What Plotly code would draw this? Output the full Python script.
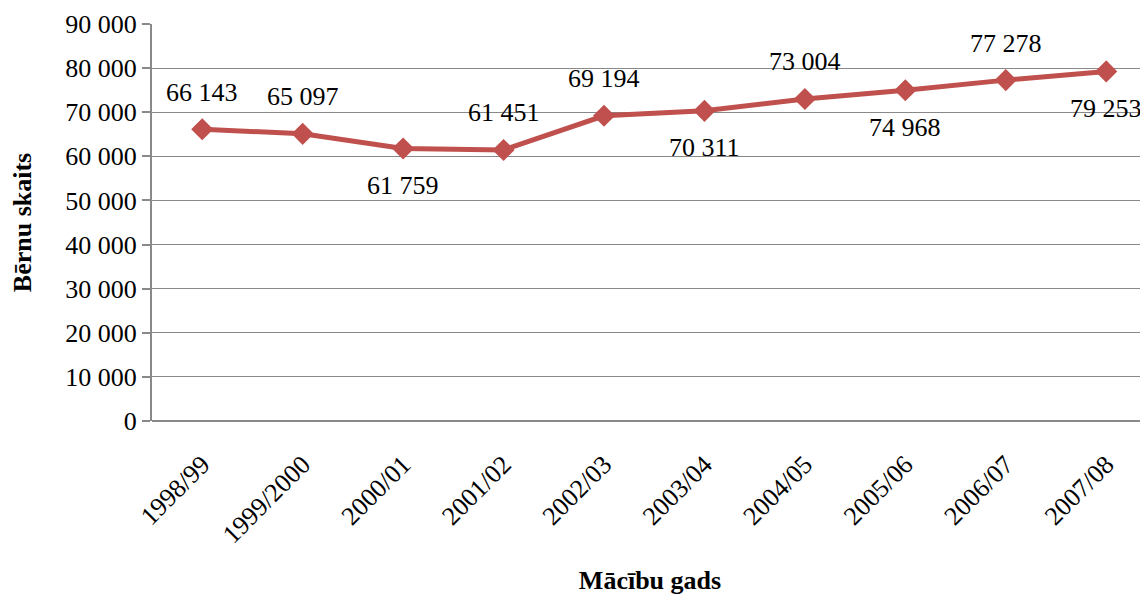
import plotly.graph_objects as go

years = ["1998/99", "1999/2000", "2000/01", "2001/02", "2002/03",
         "2003/04", "2004/05", "2005/06", "2006/07", "2007/08"]
children = [66143, 65097, 61759, 61451, 69194, 70311, 73004, 74968, 77278, 79253]
label_side = ["above", "above", "below", "above", "above",
              "below", "above", "below", "above", "below"]
y_ticks = [0, 10000, 20000, 30000, 40000, 50000, 60000, 70000, 80000, 90000]

FONT = "Liberation Serif"
RED = "#C0504D"
GRID = "#898989"

def fmt(v):
    return f"{v:,}".replace(",", " ")

fig = go.Figure()
fig.add_trace(go.Scatter(
    x=years, y=children, mode="lines+markers",
    line=dict(color=RED, width=5),
    marker=dict(symbol="diamond", size=17, color=RED),
    hoverinfo="skip", showlegend=False,
))

for x, v, side in zip(years, children, label_side):
    fig.add_annotation(
        x=x, y=v, text=fmt(v), showarrow=False,
        yshift=37 if side == "above" else -37,
        font=dict(family=FONT, size=26, color="black"),
    )

fig.update_layout(
    width=1140, height=587,
    margin=dict(l=144, r=0, t=16, b=174),
    paper_bgcolor="white", plot_bgcolor="white",
    font=dict(family=FONT, color="black"),
    separators=", ",
)
fig.update_xaxes(
    type="category", range=[-0.5, 9.416],
    showgrid=False, showline=False, zeroline=False,
    tickangle=-45, ticks="", ticklabelstandoff=22,
    tickfont=dict(family=FONT, size=26, color="black"),
    title=dict(text="<b>Mācību gads</b>", font=dict(family=FONT, size=26, color="black"), standoff=25),
    automargin=False,
)
fig.update_yaxes(
    range=[0, 90000], tickvals=y_ticks, tickformat=",d",
    showgrid=True, gridcolor=GRID, gridwidth=1.3,
    showline=True, linecolor=GRID, linewidth=2,
    zeroline=True, zerolinecolor=GRID, zerolinewidth=2,
    ticks="outside", ticklen=8, tickcolor=GRID, tickwidth=2,
    tickfont=dict(family=FONT, size=26, color="black"),
    title=dict(text="<b>Bērnu skaits</b>", font=dict(family=FONT, size=26, color="black"), standoff=28),
    automargin=False,
)

fig.write_html("out.html")
